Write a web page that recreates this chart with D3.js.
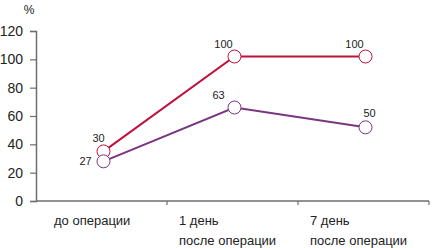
<!DOCTYPE html>
<html>
<head>
<meta charset="utf-8">
<script src="https://cdn.jsdelivr.net/npm/d3@7"></script>
<style>
  body { margin: 0; background: #fff; }
  svg { font-family: "Liberation Sans Narrow", "Arial Narrow", "Liberation Sans", sans-serif; }
</style>
</head>
<body>
<div id="container"></div>
<script>
/* CONSTANTS AND GLOBALS */
const width = 432;
const height = 248;

const categories = ["до операции", "1 день|после операции", "7 день|после операции"];
const yTicks = [0, 20, 40, 60, 80, 100, 120];
// plotted positions, with the printed labels
const redValues = [35, 102, 102];
const redLabels = ["30", "100", "100"];
const purpleValues = [28, 66, 52];
const purpleLabels = ["27", "63", "50"];

const svg = d3.select("#container").append("svg")
  .attr("width", width)
  .attr("height", height);

/* SCALES */
const xScale = d3.scaleBand()
  .domain(categories)
  .range([36, 429]);

const yScale = d3.scaleLinear()
  .domain([0, 120])
  .range([201, 31]);

const px = d => xScale(d) + xScale.bandwidth() / 2 + 2;

/* AXES */
const yAxis = d3.axisLeft(yScale).tickValues(yTicks).tickSize(6).tickPadding(7);
const gy = svg.append("g")
  .attr("transform", "translate(36,0)")
  .call(yAxis);
gy.select(".domain").attr("stroke", "#6e6e6e").attr("stroke-width", 1.5);
gy.selectAll(".tick line").attr("stroke", "#6e6e6e").attr("stroke-width", 1.2);
gy.selectAll(".tick text").attr("font-size", 14).attr("fill", "#222");

svg.append("text")
  .attr("x", 29).attr("y", 14)
  .attr("text-anchor", "middle")
  .attr("font-size", 12)
  .attr("fill", "#222")
  .text("%");

// x axis line and band boundary ticks
svg.append("line")
  .attr("x1", 36).attr("x2", 429)
  .attr("y1", yScale(0)).attr("y2", yScale(0))
  .attr("stroke", "#6e6e6e").attr("stroke-width", 1.5);

svg.selectAll("line.xtick")
  .data(categories)
  .join("line")
  .attr("class", "xtick")
  .attr("x1", d => xScale(d) + xScale.bandwidth())
  .attr("x2", d => xScale(d) + xScale.bandwidth())
  .attr("y1", yScale(0)).attr("y2", yScale(0) + 4)
  .attr("stroke", "#6e6e6e").attr("stroke-width", 1.2);

svg.selectAll("text.xlabel")
  .data(categories)
  .join("text")
  .attr("class", "xlabel")
  .attr("font-size", 13)
  .attr("fill", "#222")
  .attr("x", (d, i) => xScale(d) + (i === 0 ? 18 : 12))
  .attr("y", 225)
  .selectAll("tspan")
  .data(d => d.split("|"))
  .join("tspan")
  .attr("x", function () { return this.parentNode.getAttribute("x"); })
  .attr("dy", (d, i) => i === 0 ? 0 : 20)
  .text(d => d);

/* SERIES */
const series = [
  { values: redValues, labels: redLabels, color: "#c0103c",
    offsets: [[-5, -9], [-11, -9], [-11, -9]] },
  { values: purpleValues, labels: purpleLabels, color: "#7a3580",
    offsets: [[-18, 4], [-16, -9], [4, -10]] }
];

const line = d3.line()
  .x((d, i) => px(categories[i]))
  .y(d => yScale(d));

series.forEach(s => {
  svg.append("path")
    .datum(s.values)
    .attr("d", line)
    .attr("fill", "none")
    .attr("stroke", s.color)
    .attr("stroke-width", 2);

  svg.selectAll(null)
    .data(s.values)
    .join("circle")
    .attr("cx", (d, i) => px(categories[i]))
    .attr("cy", d => yScale(d))
    .attr("r", 6.5)
    .attr("fill", "#fff")
    .attr("stroke", s.color)
    .attr("stroke-width", 1);

  svg.selectAll(null)
    .data(s.values)
    .join("text")
    .attr("x", (d, i) => px(categories[i]) + s.offsets[i][0])
    .attr("y", (d, i) => yScale(d) + s.offsets[i][1])
    .attr("text-anchor", "middle")
    .attr("font-size", 11)
    .attr("fill", "#222")
    .text((d, i) => s.labels[i]);
});
</script>
</body>
</html>
